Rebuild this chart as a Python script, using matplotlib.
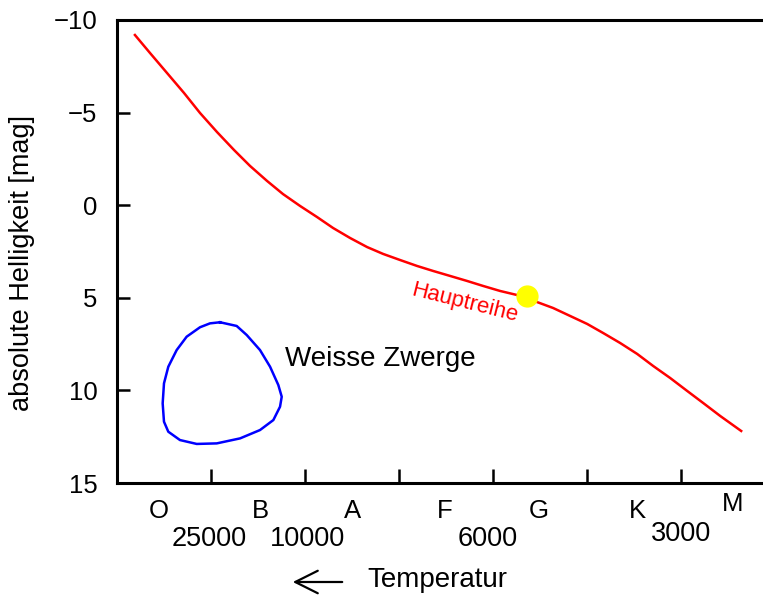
import matplotlib
matplotlib.use('Agg')
import matplotlib.pyplot as plt
import matplotlib.transforms as mtransforms
from matplotlib.patches import FancyArrowPatch

plt.rcParams['font.family'] = ['Liberation Sans', 'DejaVu Sans']

# Hauptreihe (x = Position auf der Spektralklassen-Achse, y = absolute Helligkeit in mag)
hr_x = [0.191, 0.351, 0.532, 0.713, 0.883, 1.064, 1.245, 1.415, 1.596, 1.766,
        1.947, 2.128, 2.298, 2.479, 2.660, 2.830, 3.011, 3.191, 3.362, 3.543,
        3.723, 3.894, 4.074, 4.255, 4.468, 4.638, 4.819, 5.000, 5.170, 5.351,
        5.532, 5.702, 5.883, 6.064, 6.234, 6.415, 6.638]
hr_m = [-9.19, -8.22, -7.14, -6.06, -4.98, -3.95, -2.98, -2.12, -1.31, -0.60,
        0.04, 0.64, 1.23, 1.77, 2.26, 2.63, 2.96, 3.28, 3.55, 3.82,
        4.09, 4.36, 4.63, 4.85, 5.23, 5.55, 5.98, 6.41, 6.90, 7.44,
        8.03, 8.68, 9.33, 10.03, 10.68, 11.38, 12.19]

# Sonne
sun_x = [4.362]
sun_m = [4.90]

# Weisse Zwerge (geschlossene Kurve)
wd_x = [1.096, 1.273, 1.380, 1.521, 1.628, 1.716, 1.752, 1.734, 1.663, 1.521,
        1.309, 1.061, 0.848, 0.670, 0.546, 0.500, 0.486, 0.500, 0.546, 0.635,
        0.741, 0.883, 0.989, 1.096]
wd_m = [6.32, 6.52, 7.01, 7.82, 8.72, 9.71, 10.34, 10.88, 11.60, 12.14,
        12.59, 12.86, 12.89, 12.68, 12.23, 11.69, 10.70, 9.62, 8.72, 7.82,
        7.10, 6.59, 6.38, 6.32]

spektral = ['O', 'B', 'A', 'F', 'G', 'K', 'M']
spektral_x = [0.44, 1.53, 2.50, 3.49, 4.48, 5.54, 6.55]
temp_labels = ['25000', '10000', '6000', '3000']
temp_x = [0.98, 2.03, 3.94, 6.00]

fig = plt.figure(figsize=(7.63, 5.95), dpi=100)
ax = fig.add_axes([0.1533, 0.1882, 0.8467, 0.7782])

ax.plot(hr_x, hr_m, color='red', lw=1.8, solid_joinstyle='round')
ax.plot(sun_x, sun_m, 'o', color='yellow', ms=15, zorder=3)
ax.plot(wd_x, wd_m, color='blue', lw=1.8, solid_joinstyle='round')

ax.set_xlim(0, 6.87)
ax.set_ylim(15, -10)
ax.set_yticks([-10, -5, 0, 5, 10, 15])
ax.set_xticks([1, 2, 3, 4, 5, 6])
ax.set_xticklabels([])
ax.tick_params(axis='y', direction='in', length=9, width=1.8, labelsize=18.5, pad=14)
ax.tick_params(axis='x', direction='in', length=10, width=1.8)
for s in ['left', 'bottom', 'top']:
    ax.spines[s].set_linewidth(2.2)
ax.spines['right'].set_visible(False)

ax.set_ylabel('absolute Helligkeit [mag]', fontsize=19.5)
ax.yaxis.set_label_coords(-0.127, 0.475)

trans = mtransforms.blended_transform_factory(ax.transData, ax.transAxes)
for lab, x in zip(spektral, spektral_x):
    dy = -0.045 if lab == 'M' else -0.06
    ax.text(x, dy, lab, transform=trans, ha='center', va='center', fontsize=18.5)
for lab, x in zip(temp_labels, temp_x):
    dy = -0.11 if lab == '3000' else -0.12
    ax.text(x, dy, lab, transform=trans, ha='center', va='center', fontsize=19.5)

ax.text(3.70, 5.28, 'Hauptreihe', color='red', fontsize=16, rotation=-14,
        ha='center', va='center')
ax.text(1.79, 8.3, 'Weisse Zwerge', fontsize=20, ha='left', va='center')

fig.text(367 / 763, 1 - 580 / 595, 'Temperatur', fontsize=20, ha='left', va='center')
fig.patches.append(FancyArrowPatch(
    (345 / 763, 1 - 582 / 595), (290 / 763, 1 - 582 / 595),
    transform=fig.transFigure, arrowstyle='->,head_length=0.9,head_width=0.45',
    lw=1.6, color='black', mutation_scale=18))

fig.savefig('out.png', dpi=100)
